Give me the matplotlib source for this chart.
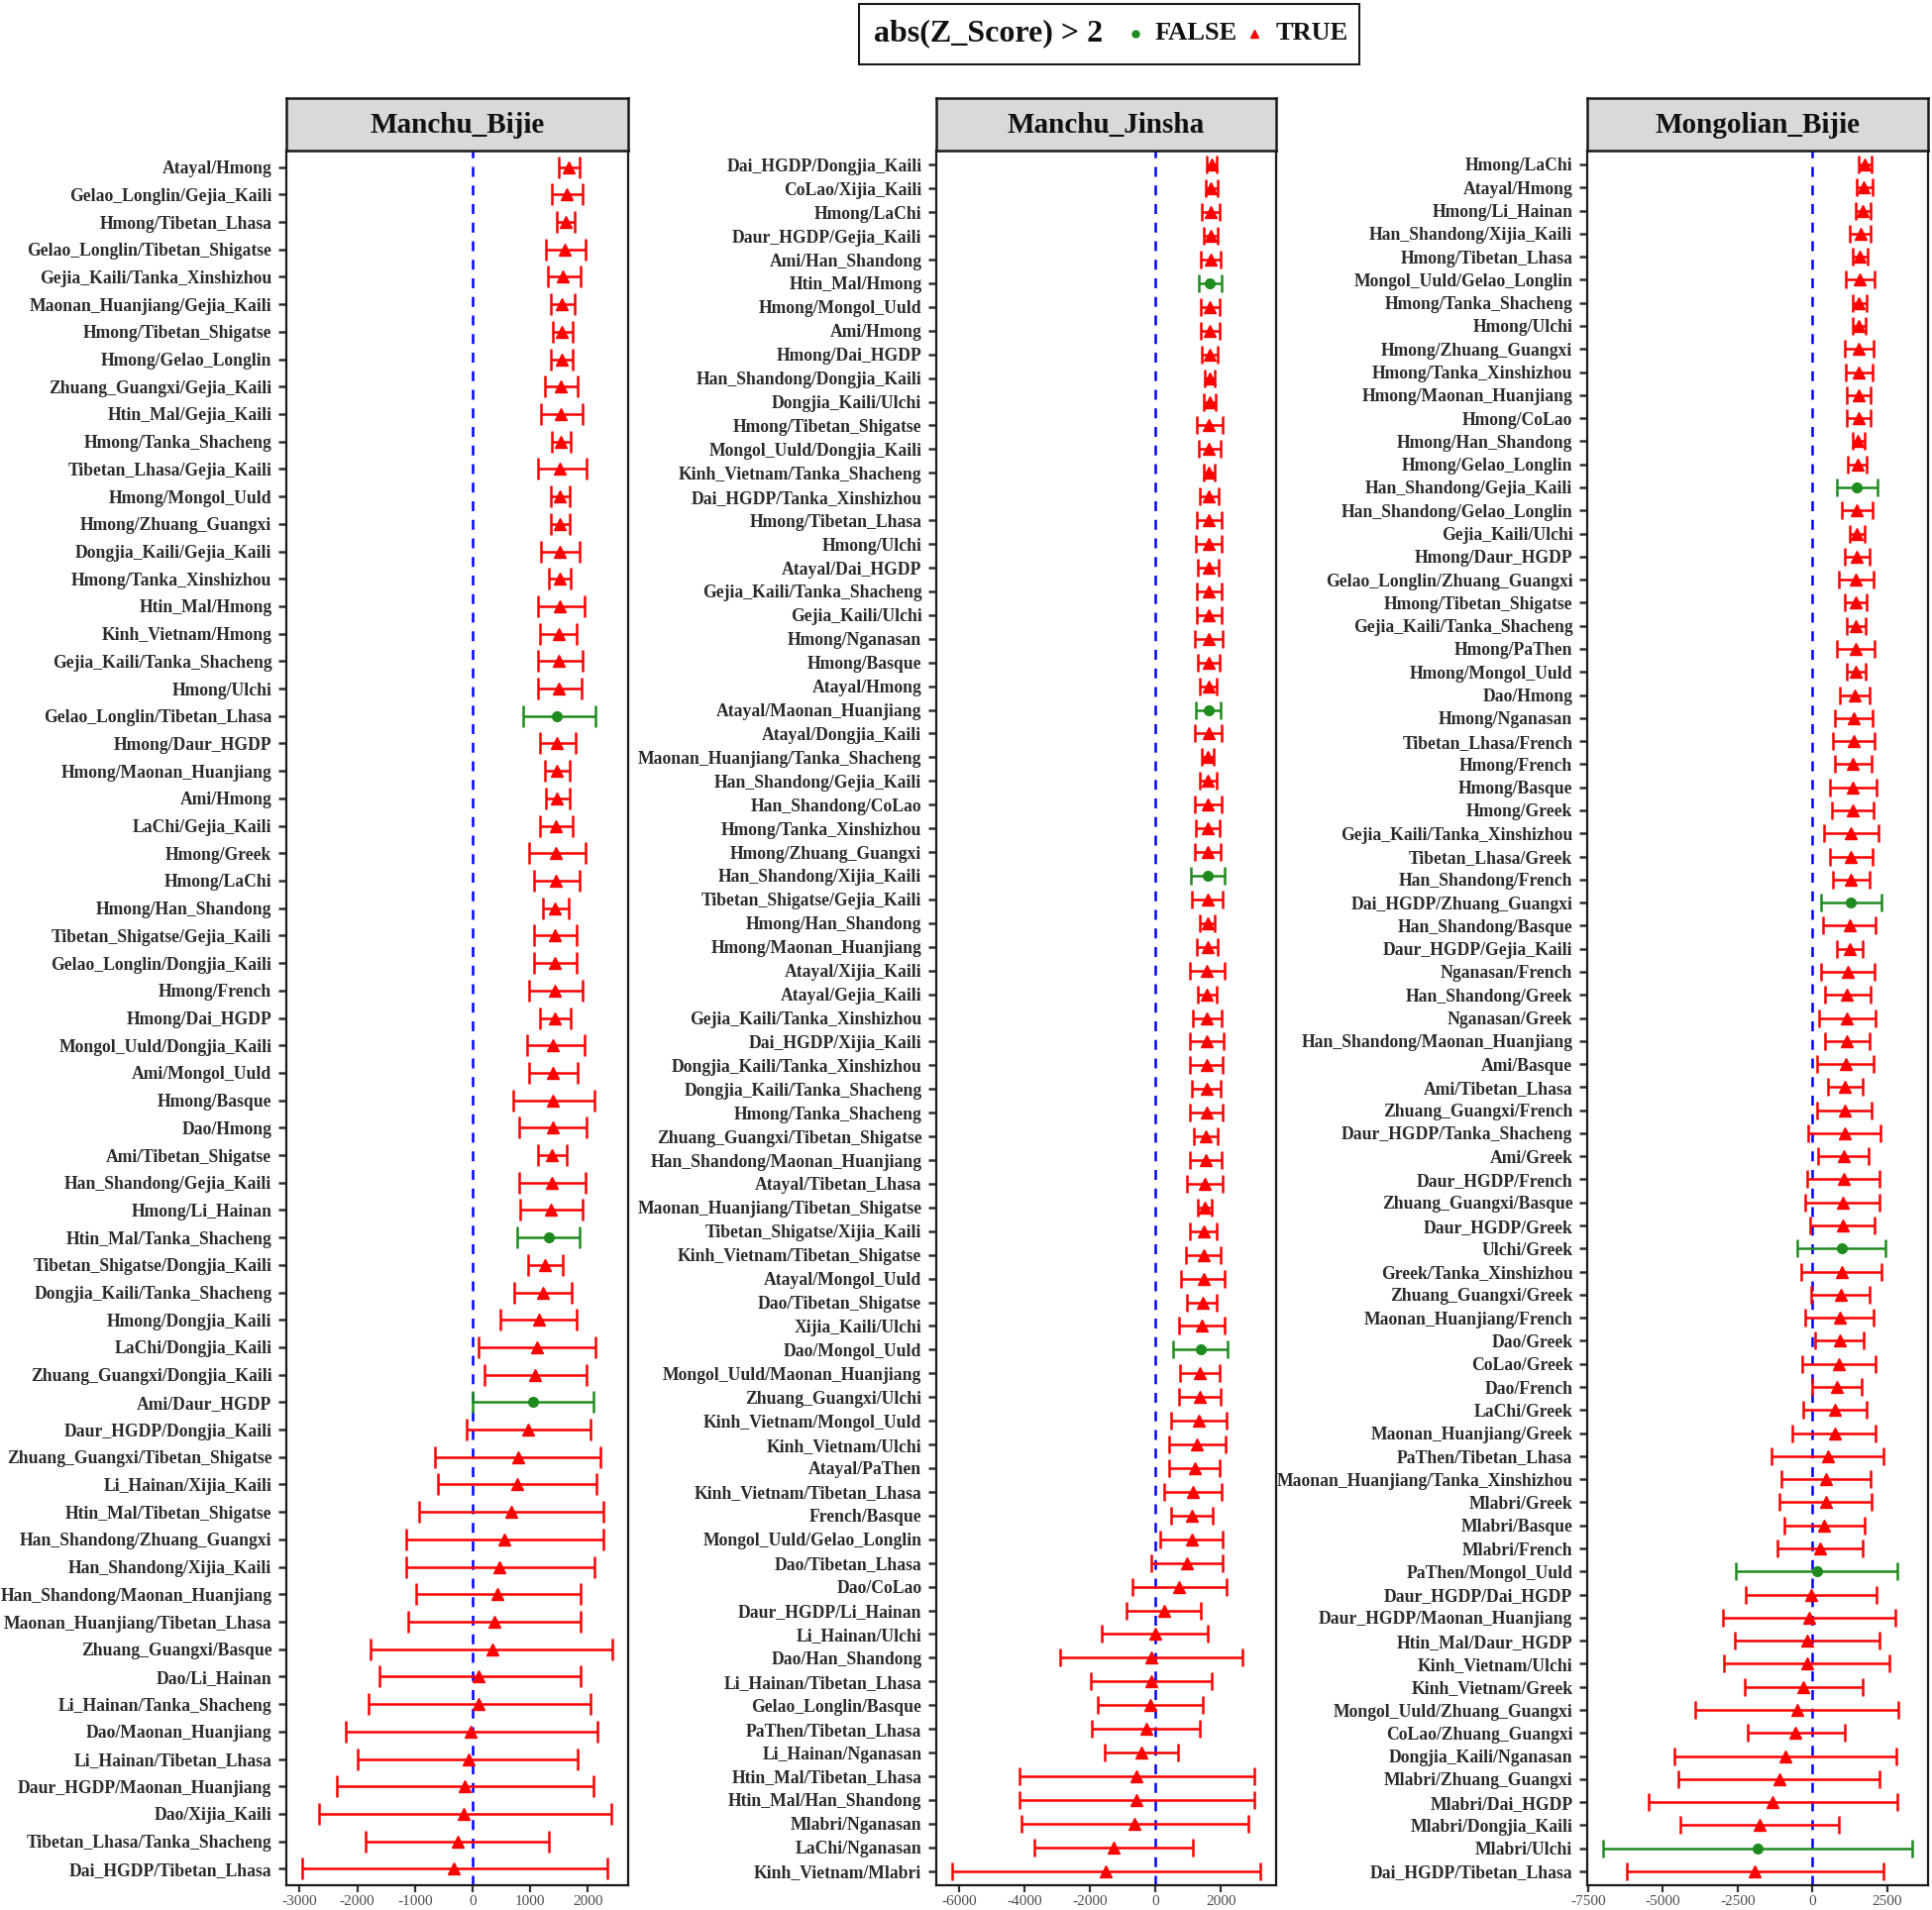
import matplotlib
matplotlib.use('Agg')
import matplotlib.pyplot as plt
from matplotlib.lines import Line2D
from matplotlib.patches import Rectangle
import numpy as np

plt.rcParams['font.family'] = ['Liberation Serif', 'DejaVu Serif']

# ---------------- Panel 1: Manchu_Bijie ----------------
p1_title = "Manchu_Bijie"
p1_labels = [
    "Atayal/Hmong", "Gelao_Longlin/Gejia_Kaili", "Hmong/Tibetan_Lhasa", "Gelao_Longlin/Tibetan_Shigatse",
    "Gejia_Kaili/Tanka_Xinshizhou", "Maonan_Huanjiang/Gejia_Kaili", "Hmong/Tibetan_Shigatse", "Hmong/Gelao_Longlin",
    "Zhuang_Guangxi/Gejia_Kaili", "Htin_Mal/Gejia_Kaili", "Hmong/Tanka_Shacheng", "Tibetan_Lhasa/Gejia_Kaili",
    "Hmong/Mongol_Uuld", "Hmong/Zhuang_Guangxi", "Dongjia_Kaili/Gejia_Kaili", "Hmong/Tanka_Xinshizhou",
    "Htin_Mal/Hmong", "Kinh_Vietnam/Hmong", "Gejia_Kaili/Tanka_Shacheng", "Hmong/Ulchi",
    "Gelao_Longlin/Tibetan_Lhasa", "Hmong/Daur_HGDP", "Hmong/Maonan_Huanjiang", "Ami/Hmong",
    "LaChi/Gejia_Kaili", "Hmong/Greek", "Hmong/LaChi", "Hmong/Han_Shandong",
    "Tibetan_Shigatse/Gejia_Kaili", "Gelao_Longlin/Dongjia_Kaili", "Hmong/French", "Hmong/Dai_HGDP",
    "Mongol_Uuld/Dongjia_Kaili", "Ami/Mongol_Uuld", "Hmong/Basque", "Dao/Hmong",
    "Ami/Tibetan_Shigatse", "Han_Shandong/Gejia_Kaili", "Hmong/Li_Hainan", "Htin_Mal/Tanka_Shacheng",
    "Tibetan_Shigatse/Dongjia_Kaili", "Dongjia_Kaili/Tanka_Shacheng", "Hmong/Dongjia_Kaili", "LaChi/Dongjia_Kaili",
    "Zhuang_Guangxi/Dongjia_Kaili", "Ami/Daur_HGDP", "Daur_HGDP/Dongjia_Kaili", "Zhuang_Guangxi/Tibetan_Shigatse",
    "Li_Hainan/Xijia_Kaili", "Htin_Mal/Tibetan_Shigatse", "Han_Shandong/Zhuang_Guangxi", "Han_Shandong/Xijia_Kaili",
    "Han_Shandong/Maonan_Huanjiang", "Maonan_Huanjiang/Tibetan_Lhasa", "Zhuang_Guangxi/Basque", "Dao/Li_Hainan",
    "Li_Hainan/Tanka_Shacheng", "Dao/Maonan_Huanjiang", "Li_Hainan/Tibetan_Lhasa", "Daur_HGDP/Maonan_Huanjiang",
    "Dao/Xijia_Kaili", "Tibetan_Lhasa/Tanka_Shacheng", "Dai_HGDP/Tibetan_Lhasa",
]
p1_mean = [1660, 1640, 1620, 1600, 1570, 1550, 1550, 1550, 1530, 1530, 1530, 1510, 1510, 1510, 1510, 1510,
           1510, 1490, 1490, 1490, 1470, 1470, 1470, 1470, 1450, 1450, 1450, 1430, 1430, 1430, 1430, 1430,
           1400, 1400, 1400, 1400, 1380, 1380, 1360, 1320, 1260, 1230, 1150, 1110, 1090, 1050, 960, 790,
           770, 680, 550, 470, 430, 380, 340, 110, 110, -40, -60, -130, -150, -260, -320]
p1_low = [1490, 1380, 1470, 1280, 1300, 1360, 1400, 1360, 1260, 1190, 1380, 1130, 1360, 1360, 1190, 1320,
          1130, 1170, 1130, 1130, 870, 1170, 1260, 1280, 1170, 980, 1060, 1230, 1060, 1060, 980, 1170,
          940, 980, 700, 810, 1130, 810, 830, 770, 960, 720, 490, 110, 210, 0, -100, -650,
          -600, -920, -1150, -1150, -980, -1110, -1770, -1620, -1810, -2190, -2000, -2360, -2660, -1850, -2960]
p1_high = [1850, 1910, 1770, 1960, 1870, 1770, 1740, 1740, 1830, 1910, 1700, 1980, 1680, 1680, 1850, 1700,
           1940, 1810, 1910, 1890, 2130, 1790, 1680, 1680, 1740, 1960, 1850, 1660, 1810, 1810, 1910, 1700,
           1940, 1830, 2110, 1980, 1640, 1960, 1910, 1850, 1570, 1720, 1810, 2130, 1980, 2090, 2040, 2210,
           2150, 2270, 2270, 2110, 1870, 1870, 2430, 1870, 2040, 2170, 1830, 2090, 2400, 1320, 2340]
p1_false = ["Gelao_Longlin/Tibetan_Lhasa", "Htin_Mal/Tanka_Shacheng", "Ami/Daur_HGDP"]
p1_ticks = [-3000, -2000, -1000, 0, 1000, 2000]

# ---------------- Panel 2: Manchu_Jinsha ----------------
p2_title = "Manchu_Jinsha"
p2_labels = [
    "Dai_HGDP/Dongjia_Kaili", "CoLao/Xijia_Kaili", "Hmong/LaChi", "Daur_HGDP/Gejia_Kaili", "Ami/Han_Shandong",
    "Htin_Mal/Hmong", "Hmong/Mongol_Uuld", "Ami/Hmong", "Hmong/Dai_HGDP", "Han_Shandong/Dongjia_Kaili",
    "Dongjia_Kaili/Ulchi", "Hmong/Tibetan_Shigatse", "Mongol_Uuld/Dongjia_Kaili", "Kinh_Vietnam/Tanka_Shacheng",
    "Dai_HGDP/Tanka_Xinshizhou", "Hmong/Tibetan_Lhasa", "Hmong/Ulchi", "Atayal/Dai_HGDP",
    "Gejia_Kaili/Tanka_Shacheng", "Gejia_Kaili/Ulchi", "Hmong/Nganasan", "Hmong/Basque", "Atayal/Hmong",
    "Atayal/Maonan_Huanjiang", "Atayal/Dongjia_Kaili", "Maonan_Huanjiang/Tanka_Shacheng", "Han_Shandong/Gejia_Kaili",
    "Han_Shandong/CoLao", "Hmong/Tanka_Xinshizhou", "Hmong/Zhuang_Guangxi", "Han_Shandong/Xijia_Kaili",
    "Tibetan_Shigatse/Gejia_Kaili", "Hmong/Han_Shandong", "Hmong/Maonan_Huanjiang", "Atayal/Xijia_Kaili",
    "Atayal/Gejia_Kaili", "Gejia_Kaili/Tanka_Xinshizhou", "Dai_HGDP/Xijia_Kaili", "Dongjia_Kaili/Tanka_Xinshizhou",
    "Dongjia_Kaili/Tanka_Shacheng", "Hmong/Tanka_Shacheng", "Zhuang_Guangxi/Tibetan_Shigatse",
    "Han_Shandong/Maonan_Huanjiang", "Atayal/Tibetan_Lhasa", "Maonan_Huanjiang/Tibetan_Shigatse",
    "Tibetan_Shigatse/Xijia_Kaili", "Kinh_Vietnam/Tibetan_Shigatse", "Atayal/Mongol_Uuld", "Dao/Tibetan_Shigatse",
    "Xijia_Kaili/Ulchi", "Dao/Mongol_Uuld", "Mongol_Uuld/Maonan_Huanjiang", "Zhuang_Guangxi/Ulchi",
    "Kinh_Vietnam/Mongol_Uuld", "Kinh_Vietnam/Ulchi", "Atayal/PaThen", "Kinh_Vietnam/Tibetan_Lhasa",
    "French/Basque", "Mongol_Uuld/Gelao_Longlin", "Dao/Tibetan_Lhasa", "Dao/CoLao", "Daur_HGDP/Li_Hainan",
    "Li_Hainan/Ulchi", "Dao/Han_Shandong", "Li_Hainan/Tibetan_Lhasa", "Gelao_Longlin/Basque",
    "PaThen/Tibetan_Lhasa", "Li_Hainan/Nganasan", "Htin_Mal/Tibetan_Lhasa", "Htin_Mal/Han_Shandong",
    "Mlabri/Nganasan", "LaChi/Nganasan", "Kinh_Vietnam/Mlabri",
]
p2_mean = [1720, 1700, 1690, 1680, 1680, 1670, 1670, 1660, 1660, 1650, 1650, 1640, 1640, 1640, 1630, 1630,
           1630, 1620, 1630, 1630, 1630, 1620, 1620, 1610, 1610, 1600, 1600, 1600, 1590, 1590, 1590, 1580,
           1580, 1580, 1570, 1570, 1570, 1560, 1560, 1550, 1550, 1540, 1530, 1510, 1510, 1480, 1460, 1460,
           1430, 1410, 1380, 1360, 1350, 1310, 1270, 1190, 1150, 1100, 1100, 960, 730, 260, -20, -130,
           -130, -160, -280, -430, -570, -570, -630, -1270, -1510]
p2_low = [1570, 1520, 1420, 1460, 1370, 1320, 1370, 1370, 1420, 1490, 1460, 1260, 1310, 1470, 1350, 1250,
          1240, 1300, 1250, 1260, 1210, 1290, 1360, 1240, 1190, 1420, 1350, 1190, 1240, 1190, 1070, 1120,
          1360, 1250, 1060, 1300, 1130, 1050, 1060, 1100, 1050, 1180, 1060, 950, 1300, 1060, 930, 790,
          970, 710, 540, 760, 720, 480, 420, 420, 250, 470, 140, -130, -700, -880, -1630, -2900,
          -1970, -1750, -1930, -1550, -4150, -4150, -4080, -3690, -6220]
p2_high = [1870, 1900, 1960, 1910, 1980, 2020, 1960, 1950, 1900, 1820, 1850, 2040, 1980, 1810, 1920, 2010,
           2030, 1940, 2030, 2010, 2040, 1960, 1880, 2000, 2020, 1790, 1860, 2010, 1960, 1990, 2110, 2040,
           1810, 1910, 2100, 1860, 2020, 2080, 2060, 2000, 2050, 1900, 2010, 2050, 1710, 1880, 1980, 2110,
           1880, 2100, 2210, 1960, 1990, 2160, 2140, 1950, 2030, 1750, 2060, 2050, 2160, 1390, 1580, 2650,
           1710, 1450, 1360, 700, 3010, 3010, 2840, 1150, 3210]
p2_false = ["Htin_Mal/Hmong", "Atayal/Maonan_Huanjiang", "Han_Shandong/Xijia_Kaili", "Dao/Mongol_Uuld"]
p2_ticks = [-6000, -4000, -2000, 0, 2000]

# ---------------- Panel 3: Mongolian_Bijie ----------------
p3_title = "Mongolian_Bijie"
p3_labels = [
    "Hmong/LaChi", "Atayal/Hmong", "Hmong/Li_Hainan", "Han_Shandong/Xijia_Kaili", "Hmong/Tibetan_Lhasa",
    "Mongol_Uuld/Gelao_Longlin", "Hmong/Tanka_Shacheng", "Hmong/Ulchi", "Hmong/Zhuang_Guangxi",
    "Hmong/Tanka_Xinshizhou", "Hmong/Maonan_Huanjiang", "Hmong/CoLao", "Hmong/Han_Shandong", "Hmong/Gelao_Longlin",
    "Han_Shandong/Gejia_Kaili", "Han_Shandong/Gelao_Longlin", "Gejia_Kaili/Ulchi", "Hmong/Daur_HGDP",
    "Gelao_Longlin/Zhuang_Guangxi", "Hmong/Tibetan_Shigatse", "Gejia_Kaili/Tanka_Shacheng", "Hmong/PaThen",
    "Hmong/Mongol_Uuld", "Dao/Hmong", "Hmong/Nganasan", "Tibetan_Lhasa/French", "Hmong/French", "Hmong/Basque",
    "Hmong/Greek", "Gejia_Kaili/Tanka_Xinshizhou", "Tibetan_Lhasa/Greek", "Han_Shandong/French",
    "Dai_HGDP/Zhuang_Guangxi", "Han_Shandong/Basque", "Daur_HGDP/Gejia_Kaili", "Nganasan/French",
    "Han_Shandong/Greek", "Nganasan/Greek", "Han_Shandong/Maonan_Huanjiang", "Ami/Basque", "Ami/Tibetan_Lhasa",
    "Zhuang_Guangxi/French", "Daur_HGDP/Tanka_Shacheng", "Ami/Greek", "Daur_HGDP/French", "Zhuang_Guangxi/Basque",
    "Daur_HGDP/Greek", "Ulchi/Greek", "Greek/Tanka_Xinshizhou", "Zhuang_Guangxi/Greek", "Maonan_Huanjiang/French",
    "Dao/Greek", "CoLao/Greek", "Dao/French", "LaChi/Greek", "Maonan_Huanjiang/Greek", "PaThen/Tibetan_Lhasa",
    "Maonan_Huanjiang/Tanka_Xinshizhou", "Mlabri/Greek", "Mlabri/Basque", "Mlabri/French", "PaThen/Mongol_Uuld",
    "Daur_HGDP/Dai_HGDP", "Daur_HGDP/Maonan_Huanjiang", "Htin_Mal/Daur_HGDP", "Kinh_Vietnam/Ulchi",
    "Kinh_Vietnam/Greek", "Mongol_Uuld/Zhuang_Guangxi", "CoLao/Zhuang_Guangxi", "Dongjia_Kaili/Nganasan",
    "Mlabri/Zhuang_Guangxi", "Mlabri/Dai_HGDP", "Mlabri/Dongjia_Kaili", "Mlabri/Ulchi", "Dai_HGDP/Tibetan_Lhasa",
]
p3_mean = [1740, 1720, 1690, 1600, 1580, 1570, 1560, 1560, 1545, 1535, 1535, 1535, 1520, 1500, 1490, 1490,
           1490, 1470, 1450, 1450, 1450, 1450, 1450, 1410, 1380, 1370, 1360, 1350, 1335, 1290, 1290, 1290,
           1290, 1250, 1240, 1170, 1160, 1150, 1150, 1100, 1085, 1075, 1065, 1050, 1040, 1010, 1000, 975,
           965, 955, 910, 900, 865, 820, 765, 735, 505, 460, 460, 395, 240, 155, -45, -110,
           -175, -185, -305, -525, -570, -900, -1120, -1340, -1775, -1830, -1930]
p3_low = [1545, 1480, 1460, 1250, 1350, 1120, 1330, 1350, 1085, 1110, 1150, 1140, 1330, 1195, 830, 990,
          1250, 1085, 875, 1095, 1130, 830, 1130, 920, 755, 680, 745, 570, 635, 395, 580, 690,
          275, 350, 800, 295, 415, 220, 405, 140, 505, 165, -155, 185, -165, -250, -75, -515,
          -385, -35, -230, 100, -360, -10, -305, -670, -1360, -1040, -1095, -955, -1185, -2555, -2245, -2990,
          -2610, -2950, -2270, -3910, -2180, -4625, -4480, -5490, -4415, -7015, -6215]
p3_high = [1960, 1995, 1930, 1950, 1840, 2060, 1810, 1790, 2050, 1995, 1950, 1950, 1750, 1810, 2170, 2005,
           1730, 1900, 2040, 1810, 1790, 2070, 1790, 1920, 1995, 2080, 1970, 2150, 2030, 2200, 2005, 1895,
           2310, 2115, 1675, 2060, 1930, 2095, 1900, 2030, 1665, 1985, 2260, 1885, 2235, 2245, 2060, 2455,
           2300, 1920, 2030, 1720, 2115, 1645, 1820, 2115, 2365, 1950, 1985, 1730, 1690, 2830, 2150, 2770,
           2245, 2585, 1665, 2870, 1065, 2815, 2245, 2830, 865, 3345, 2380]
p3_false = ["Han_Shandong/Gejia_Kaili", "Dai_HGDP/Zhuang_Guangxi", "Ulchi/Greek", "PaThen/Mongol_Uuld",
            "Mlabri/Ulchi"]
p3_ticks = [-7500, -5000, -2500, 0, 2500]

# ---------------- Figure ----------------
W, H = 1950, 1928
fig = plt.figure(figsize=(W / 100, H / 100), dpi=100)

RED = '#FF0000'
GREEN = '#1E8B1E'
LABEL_COLOR = '#2b2b2b'

panels = [
    (p1_title, p1_labels, p1_mean, p1_low, p1_high, p1_false, p1_ticks, 289, 634),
    (p2_title, p2_labels, p2_mean, p2_low, p2_high, p2_false, p2_ticks, 945, 1288),
    (p3_title, p3_labels, p3_mean, p3_low, p3_high, p3_false, p3_ticks, 1602, 1946),
]
top_px, bottom_px, strip_top_px = 152, 1903, 99

for title, labels, mean, low, high, false_list, ticks, x0, x1 in panels:
    left = x0 / W
    width = (x1 - x0) / W
    bottom = 1 - bottom_px / H
    height = (bottom_px - top_px) / H
    ax = fig.add_axes([left, bottom, width, height])
    n = len(labels)
    mean = np.array(mean, float)
    low = np.array(low, float)
    high = np.array(high, float)
    ypos = np.arange(n, 0, -1)
    is_false = np.array([lab in false_list for lab in labels])
    row_px = (bottom_px - top_px) / (n + 0.2)
    cap_pt = 0.38 * row_px * 0.72

    ax.axvline(0, color='#0000FF', lw=1.8, ls=(0, (4, 3.5)), zorder=1)
    for mask, col, mk, ms in [(~is_false, RED, '^', 9), (is_false, GREEN, 'o', 7)]:
        if mask.sum() == 0:
            continue
        ax.errorbar(mean[mask], ypos[mask],
                    xerr=[mean[mask] - low[mask], high[mask] - mean[mask]],
                    fmt='none', ecolor=col, elinewidth=1.8, capsize=cap_pt, capthick=1.8, zorder=2)
        ax.plot(mean[mask], ypos[mask], mk, color=col, ms=ms, mec=col, zorder=3)

    lo_all, hi_all = low.min(), high.max()
    rng = hi_all - lo_all
    ax.set_xlim(lo_all - 0.05 * rng, hi_all + 0.05 * rng)
    ax.set_ylim(0.4, n + 0.6)
    ax.set_yticks(ypos)
    ax.set_yticklabels(labels, fontsize=12.7, fontweight='bold', color=LABEL_COLOR)
    ax.set_xticks(ticks)
    ax.set_xticklabels([str(t) for t in ticks], fontsize=11, color='#4d4d4d')
    ax.tick_params(axis='y', direction='out', length=6, width=1.8, color='#333333', pad=4.5)
    ax.tick_params(axis='x', direction='out', length=5, width=1.6, color='#333333', pad=2)
    for sp in ax.spines.values():
        sp.set_linewidth(1.6)
        sp.set_color('#1a1a1a')

    # strip header
    sax = fig.add_axes([left, 1 - top_px / H, width, (top_px - strip_top_px) / H])
    sax.set_facecolor('#D9D9D9')
    sax.set_xticks([])
    sax.set_yticks([])
    for sp in sax.spines.values():
        sp.set_linewidth(1.8)
        sp.set_color('#1a1a1a')
    sax.text(0.5, 0.48, title, ha='center', va='center', fontsize=21, fontweight='bold',
             color='#111111', transform=sax.transAxes)

# ---------------- Legend ----------------
lx0, lx1, ly0, ly1 = 867, 1372, 4, 65
fig.patches.append(Rectangle((lx0 / W, 1 - ly1 / H), (lx1 - lx0) / W, (ly1 - ly0) / H,
                             transform=fig.transFigure, fill=False, lw=1.5, ec='#1a1a1a'))
cy = 1 - 34 / H
fig.text(882 / W, cy, "abs(Z_Score) > 2", ha='left', va='center', fontsize=23, fontweight='bold',
         color='#111111')
fig.lines.append(Line2D([1146 / W], [cy], marker='o', color=GREEN, ms=5, transform=fig.transFigure, ls='none'))
fig.text(1166 / W, cy, "FALSE", ha='left', va='center', fontsize=19, fontweight='bold', color='#111111')
fig.lines.append(Line2D([1266 / W], [cy], marker='^', color=RED, ms=6, transform=fig.transFigure, ls='none'))
fig.text(1288 / W, cy, "TRUE", ha='left', va='center', fontsize=19, fontweight='bold', color='#111111')

fig.savefig('out.png', dpi=100, facecolor='white')
